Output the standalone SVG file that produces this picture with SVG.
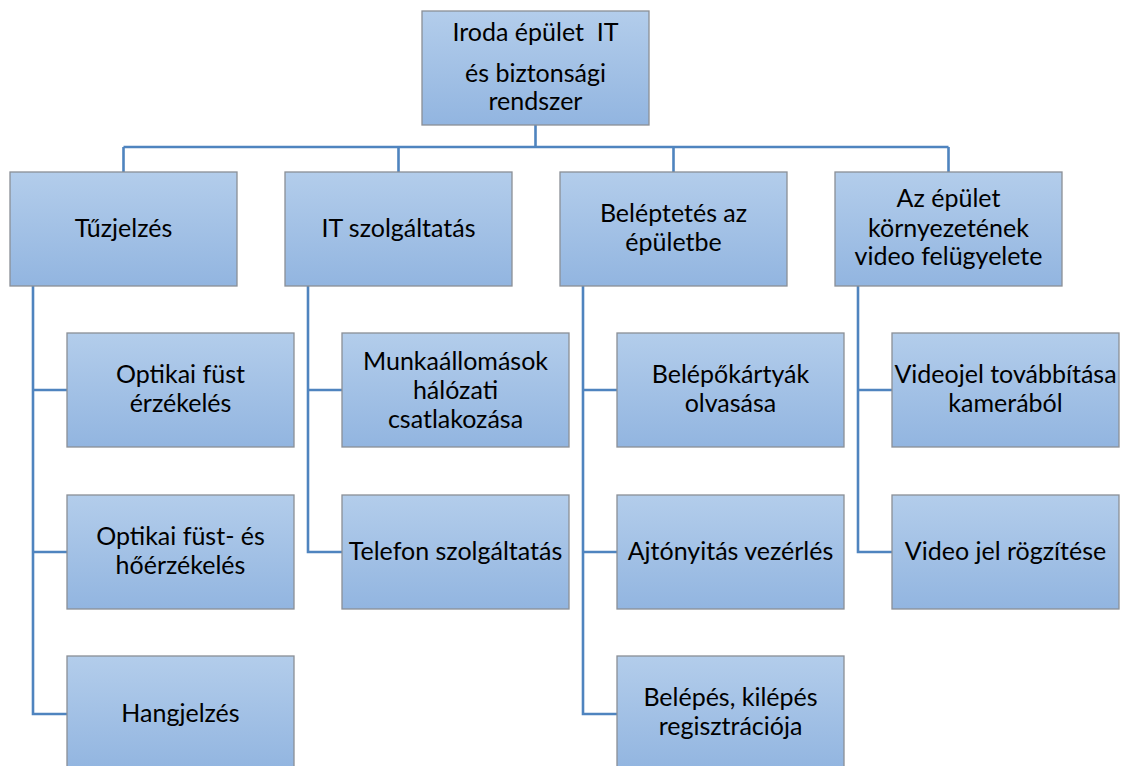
<svg xmlns="http://www.w3.org/2000/svg" width="1121" height="766" viewBox="0 0 1121 766">
<defs>
<linearGradient id="g" x1="0" y1="0" x2="0" y2="1">
<stop offset="0" stop-color="#b3cdeb"/>
<stop offset="1" stop-color="#92b5e0"/>
</linearGradient>
<style>
.b{fill:url(#g);stroke:#8a8f96;stroke-width:1.3}
.t{font-family:Lato,"Liberation Sans",sans-serif;font-size:25px;fill:#000;text-anchor:middle}
.c{fill:none;stroke:#4f84bf;stroke-width:2.6}
</style>
</defs>
<rect width="1121" height="766" fill="#fff"/>
<g id="connectors">
<path class="c" d="M535.5 125V147M123.5 147H948.5M123.5 147V172M398.5 147V172M673.5 147V172M948.5 147V172"/>
<path class="c" d="M33 286V714H67M33 390H67M33 552H67"/>
<path class="c" d="M308 286V552H342M308 390H342"/>
<path class="c" d="M583 286V714H617M583 390H617M583 552H617"/>
<path class="c" d="M858 286V552H892M858 390H892"/>
</g>
<g id="root"><rect class="b" x="422" y="11" width="227" height="114"/>
<text class="t" x="535.5" y="41">Iroda épület&#160; IT</text><text class="t" x="535.5" y="82">és biztonsági</text><text class="t" x="535.5" y="110">rendszer</text></g>
<g id="n1"><rect class="b" x="10" y="172" width="227" height="114"/><text class="t" x="123.5" y="237">Tűzjelzés</text></g>
<g id="n2"><rect class="b" x="285" y="172" width="227" height="114"/><text class="t" x="398.5" y="237">IT szolgáltatás</text></g>
<g id="n3"><rect class="b" x="560" y="172" width="227" height="114"/><text class="t" x="673.5" y="222">Beléptetés az</text><text class="t" x="673.5" y="251">épületbe</text></g>
<g id="n4"><rect class="b" x="835" y="172" width="227" height="114"/><text class="t" x="948.5" y="207">Az épület</text><text class="t" x="948.5" y="237">környezetének</text><text class="t" x="948.5" y="265">video felügyelete</text></g>
<g id="n1a"><rect class="b" x="67" y="333" width="227" height="114"/><text class="t" x="180.5" y="383">Optikai füst</text><text class="t" x="180.5" y="412">érzékelés</text></g>
<g id="n1b"><rect class="b" x="67" y="495" width="227" height="114"/><text class="t" x="180.5" y="545">Optikai füst- és</text><text class="t" x="180.5" y="574">hőérzékelés</text></g>
<g id="n1c"><rect class="b" x="67" y="656" width="227" height="114"/><text class="t" x="180.5" y="722">Hangjelzés</text></g>
<g id="n2a"><rect class="b" x="342" y="333" width="227" height="114"/><text class="t" x="455.5" y="370">Munkaállomások</text><text class="t" x="455.5" y="399">hálózati</text><text class="t" x="455.5" y="428">csatlakozása</text></g>
<g id="n2b"><rect class="b" x="342" y="495" width="227" height="114"/><text class="t" x="455.5" y="560">Telefon szolgáltatás</text></g>
<g id="n3a"><rect class="b" x="617" y="333" width="227" height="114"/><text class="t" x="730.5" y="383">Belépőkártyák</text><text class="t" x="730.5" y="412">olvasása</text></g>
<g id="n3b"><rect class="b" x="617" y="495" width="227" height="114"/><text class="t" x="730.5" y="560">Ajtónyitás vezérlés</text></g>
<g id="n3c"><rect class="b" x="617" y="656" width="227" height="114"/><text class="t" x="730.5" y="706">Belépés, kilépés</text><text class="t" x="730.5" y="735">regisztrációja</text></g>
<g id="n4a"><rect class="b" x="892" y="333" width="227" height="114"/><text class="t" x="1005.5" y="383">Videojel továbbítása</text><text class="t" x="1005.5" y="412">kamerából</text></g>
<g id="n4b"><rect class="b" x="892" y="495" width="227" height="114"/><text class="t" x="1005.5" y="560">Video jel rögzítése</text></g>
</svg>
